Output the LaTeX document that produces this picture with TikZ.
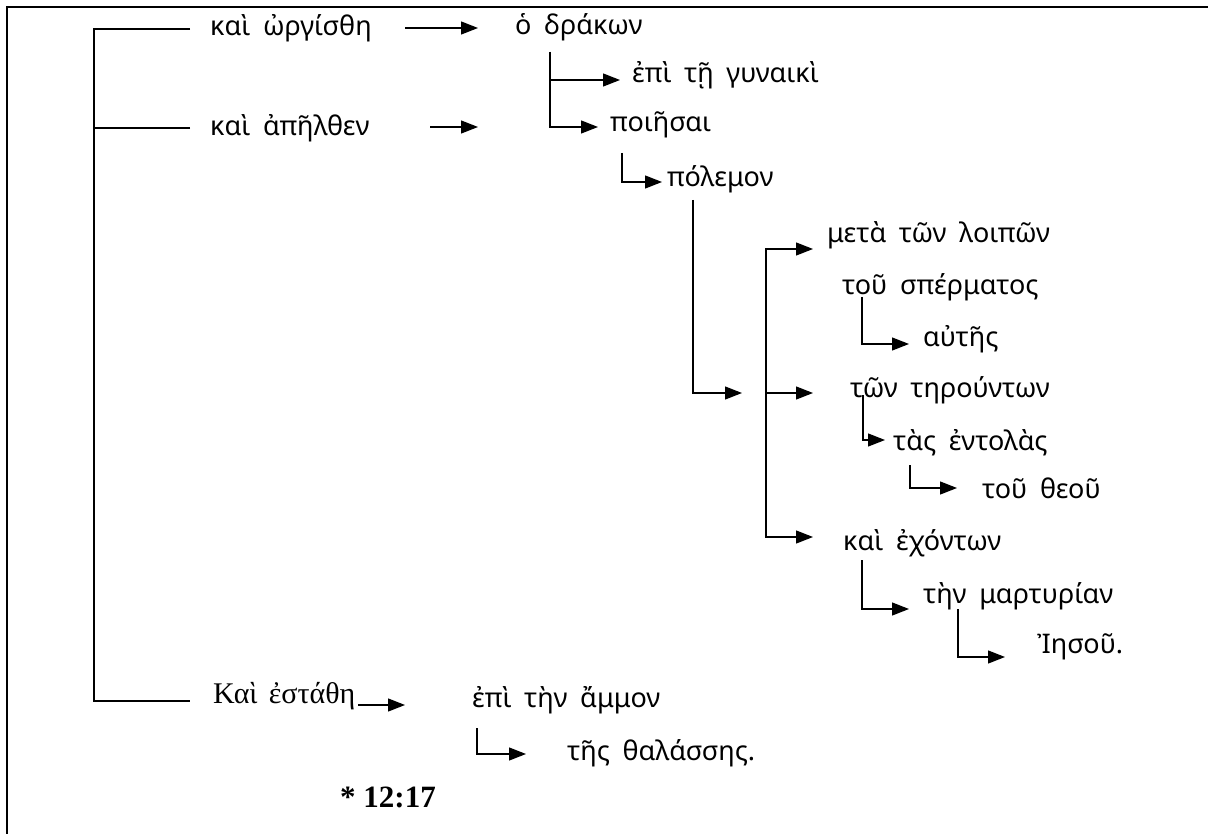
\documentclass[tikz,border=0pt]{standalone}
\usepackage{fontspec}
\setmainfont{Liberation Serif}
\newfontfamily\tms{Liberation Serif}[WordSpace=1.5]
\newfontfamily\grk{Noto Sans}[WordSpace=1.8]
\usetikzlibrary{arrows.meta}

\begin{document}
\begin{tikzpicture}
  [
    x=1pt, y=-1pt,
    >={Triangle[length=17pt,width=13pt]},
    line/.style  = {line width=1.3pt},
    arr/.style   = {line width=1.3pt, ->},
    word/.style  = {anchor=base west, inner sep=0pt, font=\grk\fontsize{27}{32}\selectfont},
    rword/.style = {anchor=base west, inner sep=0pt, font=\tms\fontsize{30}{34}\selectfont},
  ]

%Page size and the frame (only its top and left edge show)
\useasboundingbox (0,0) rectangle (1208,834);
\draw[line width=2.7pt] (7,834) -- (7,7) -- (1208,7);

%The words, placed at their baselines
\node[word]  (orgisthe) at (210,36)  {καὶ ὠργίσθη};
\node[word]  (drakon)   at (515,35)  {ὁ δράκων};
\node[word]  (gyn)      at (632,83)  {ἐπὶ τῇ γυναικὶ};
\node[word]  (apelthen) at (210,136) {καὶ ἀπῆλθεν};
\node[word]  (poiesai)  at (610,132) {ποιῆσαι};
\node[word]  (polemon)  at (667,187) {πόλεμον};
\node[word]  (meta)     at (827,243) {μετὰ τῶν λοιπῶν};
\node[word]  (sperma)   at (842,295) {τοῦ σπέρματος};
\node[word]  (autes)    at (923,347) {αὐτῆς};
\node[word]  (teron)    at (850,397) {τῶν τηρούντων};
\node[word]  (entolas)  at (893,450) {τὰς ἐντολὰς};
\node[word]  (theou)    at (982,498) {τοῦ θεοῦ};
\node[word]  (echonton) at (843,550) {καὶ ἐχόντων};
\node[word]  (martyr)   at (923,603) {τὴν μαρτυρίαν};
\node[word]  (iesou)    at (1037,653) {Ἰησοῦ.};
\node[rword] (estathe)  at (213,703) {Καὶ ἐστάθη};
\node[word]  (ammon)    at (472,707) {ἐπὶ τὴν ἄμμον};
\node[word]  (thal)     at (567,760) {τῆς θαλάσσης.};
\node[anchor=base west, inner sep=0pt, font=\bfseries\fontsize{31}{35}\selectfont] (verse) at (340,807) {* 12:17};

%Left bracket
\draw[line] ([xshift=-20pt,yshift=7pt]orgisthe.base west) -- ++(-96,0) |- ([xshift=-23pt,yshift=2pt]estathe.base west);
\draw[line] ([xshift=-20pt,yshift=8pt]apelthen.base west) -- ++(-96,0);

%Main verbs
\draw[arr] ([xshift=195pt,yshift=8pt]orgisthe.base west) -- ([xshift=-37pt,yshift=7pt]drakon.base west);
\draw[arr] ([xshift=220pt,yshift=9pt]apelthen.base west) -- ([xshift=-132pt,yshift=5pt]poiesai.base west);
\draw[arr] ([xshift=145pt,yshift=-2pt]estathe.base west) -- ([xshift=-67pt,yshift=2pt]ammon.base west);

%Under the dragon
\draw[arr] ([xshift=35pt,yshift=-17pt]drakon.base west) |- ([xshift=-12pt,yshift=3pt]gyn.base west);
\draw[arr] ([xshift=35pt,yshift=-17pt]drakon.base west) |- ([xshift=-12pt,yshift=5pt]poiesai.base west);
\draw[arr] ([xshift=12pt,yshift=-21pt]poiesai.base west) |- ([xshift=-5pt,yshift=5pt]polemon.base west);

%The fork of the war
\coordinate (fork) at ([xshift=-84pt,yshift=4pt]teron.base west);
\draw[arr] ([xshift=26pt,yshift=-13pt]polemon.base west) |- ([xshift=-24pt]fork);
\draw[arr] (fork) |- ([xshift=-14pt,yshift=-6pt]meta.base west);
\draw[arr] (fork) -- ([xshift=-37pt,yshift=4pt]teron.base west);
\draw[arr] (fork) |- ([xshift=-30pt,yshift=13pt]echonton.base west);

%Small steps
\draw[arr] ([xshift=20pt,yshift=-2pt]sperma.base west) |- ([xshift=-14pt,yshift=3pt]autes.base west);
\draw[arr] ([xshift=13pt,yshift=2pt]teron.base west) |- ([xshift=-8pt,yshift=10pt]entolas.base west);
\draw[arr] ([xshift=17pt,yshift=-15pt]entolas.base west) |- ([xshift=-25pt,yshift=10pt]theou.base west);
\draw[arr] ([xshift=19pt,yshift=-10pt]echonton.base west) |- ([xshift=-14pt,yshift=-6pt]martyr.base west);
\draw[arr] ([xshift=35pt,yshift=-6pt]martyr.base west) |- ([xshift=-32pt,yshift=-4pt]iesou.base west);
\draw[arr] ([xshift=5pt,yshift=-21pt]ammon.base west) |- ([xshift=-41pt,yshift=6pt]thal.base west);
\end{tikzpicture}
\end{document}
